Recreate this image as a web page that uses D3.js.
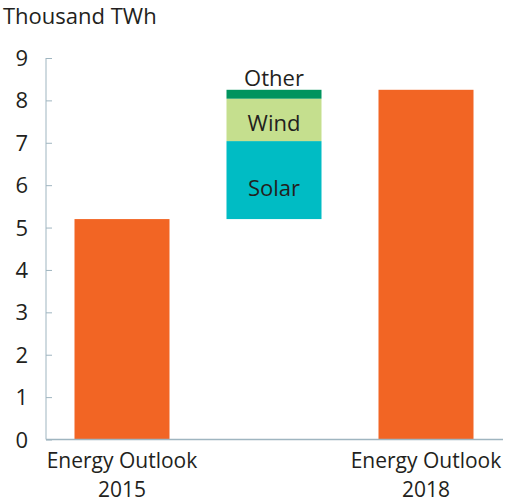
<!DOCTYPE html>
<html><head><meta charset="utf-8">
<script src="https://cdn.jsdelivr.net/npm/d3@7"></script>
<style>body{margin:0;background:#fff}svg{display:block}text{font-family:"Open Sans",Lato,sans-serif;fill:#231f20}</style>
</head><body>
<svg id="c" width="512" height="504"></svg>
<script>
const categories = ["2015", "change", "2018"];
const categoryLabels = [["Energy Outlook", "2015"], [], ["Energy Outlook", "2018"]];
const totals = [5.2, null, 8.25];
const changeBase = 5.2;
const segmentNames = ["Solar", "Wind", "Other"];
const segmentValues = [1.84, 1.0, 0.21];
const segmentColors = ["#00bcc4", "#c5df8e", "#00945e"];
const yTicks = [0,1,2,3,4,5,6,7,8,9];

const FS = 22;
const svg = d3.select("#c");
const x = d3.scaleBand().domain(categories).range([46, 502]).paddingInner(0.375).paddingOuter(0.1875);
const y = d3.scaleLinear().domain([0, 9]).range([439.5, 58]);
const axisColor = "#9fb5c0";

// bars
categories.forEach((c, i) => {
  if (totals[i] == null) return;
  svg.append("rect").attr("x", x(c)).attr("width", x.bandwidth())
    .attr("y", y(totals[i])).attr("height", y(0) - y(totals[i]))
    .attr("fill", "#f26524");
});

// stacked change
let base = changeBase;
segmentValues.forEach((v, i) => {
  svg.append("rect").attr("x", x("change")).attr("width", x.bandwidth())
    .attr("y", y(base + v)).attr("height", y(base) - y(base + v))
    .attr("fill", segmentColors[i]);
  const cx = x("change") + x.bandwidth() / 2;
  const mid = (y(base) + y(base + v)) / 2;
  let ty;
  if (i === 2) ty = y(base + v) - 4;
  else if (i === 1) ty = mid + 11;
  else ty = mid + 16;
  svg.append("text").attr("x", cx).attr("y", ty)
    .attr("text-anchor", "middle").attr("font-size", FS).text(segmentNames[i]);
  base += v;
});

// y axis
const yAxis = svg.append("g").attr("transform", "translate(46,0)")
  .call(d3.axisRight(y).tickValues(yTicks).tickSize(6).tickFormat(""));
yAxis.select(".domain").attr("stroke", axisColor).attr("d", `M0,${y(9)}V${y(0)}`);
yAxis.selectAll(".tick line").attr("stroke", axisColor);
yTicks.forEach(t => {
  svg.append("text").attr("x", 28).attr("y", y(t) + 8)
    .attr("text-anchor", "end").attr("font-size", FS).text(t);
});

// baseline
svg.append("line").attr("x1", 46).attr("x2", 503).attr("y1", y(0)).attr("y2", y(0))
  .attr("stroke", axisColor).attr("stroke-width", 1.5);

// x labels
categories.forEach((c, i) => {
  const cx = x(c) + x.bandwidth() / 2;
  categoryLabels[i].forEach((line, j) => {
    svg.append("text").attr("x", cx).attr("y", 468 + j * 29)
      .attr("text-anchor", "middle").attr("font-size", 21).text(line);
  });
});

// title
svg.append("text").attr("x", 3).attr("y", 24).attr("font-size", FS).text("Thousand TWh");
</script>
</body></html>
